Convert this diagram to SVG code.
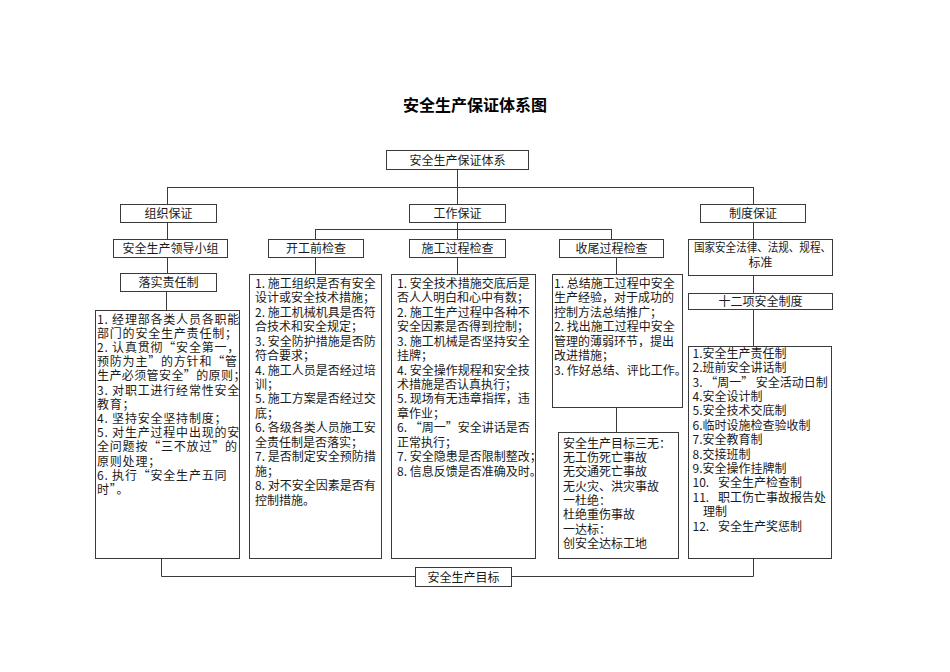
<svg xmlns="http://www.w3.org/2000/svg" width="950" height="672" viewBox="0 0 950 672">
<style>
.bx{fill:#fff;stroke:#3a3a3a;stroke-width:1}
.ln{fill:none;stroke:#3a3a3a;stroke-width:1}
text{font-family:"Noto Sans CJK SC","Noto Sans",sans-serif;font-size:12px;fill:#1a1a1a}
.c{text-anchor:middle}
.title{font-size:16px;font-weight:bold;fill:#000}
.sp{letter-spacing:0.8px}
</style>
<rect width="950" height="672" fill="#fff"/>
<text class="title c" x="475" y="111">安全生产保证体系图</text>

<g id="connectors">
<path class="ln" d="M457.5 169V204 M167.5 187.5H753.5 M167.5 187V204 M753.5 187V204"/>
<path class="ln" d="M167.5 222V239 M167.5 257V273 M166.5 291V310"/>
<path class="ln" d="M315.5 229.5H611.5 M457.5 222V239 M315.5 229V239 M611.5 229V239"/>
<path class="ln" d="M315.5 257V274 M457.5 257V274 M616.5 257V274 M616.5 407V432"/>
<path class="ln" d="M753.5 222V239 M753.5 275V293 M753.5 309V346"/>
<path class="ln" d="M161.5 558V576.5H415 M511 576.5H753.5V558"/>
</g>

<g id="root"><rect class="bx" x="386.5" y="150.5" width="142" height="19"/><text class="c" x="457.5" y="164.5">安全生产保证体系</text></g>

<g id="zuzhi"><rect class="bx" x="120.5" y="204.5" width="96" height="18"/><text class="c" x="168.5" y="218">组织保证</text></g>
<g id="gongzuo"><rect class="bx" x="409.5" y="204.5" width="96" height="18"/><text class="c" x="457.5" y="218">工作保证</text></g>
<g id="zhidu"><rect class="bx" x="700.5" y="204.5" width="105" height="18"/><text class="c" x="753" y="218">制度保证</text></g>

<g id="lingdao"><rect class="bx" x="113.5" y="239.5" width="114" height="18"/><text class="c" x="170.5" y="253">安全生产领导小组</text></g>
<g id="kaigong"><rect class="bx" x="268.5" y="239.5" width="95" height="18"/><text class="c" x="316" y="253">开工前检查</text></g>
<g id="shigong"><rect class="bx" x="409.5" y="239.5" width="96" height="18"/><text class="c" x="457.5" y="253">施工过程检查</text></g>
<g id="shouwei"><rect class="bx" x="559.5" y="239.5" width="104" height="18"/><text class="c" x="611.5" y="253">收尾过程检查</text></g>
<g id="guojia"><rect class="bx" x="688.5" y="239.5" width="144" height="36"/><text x="694" y="252" textLength="137" lengthAdjust="spacingAndGlyphs">国家安全法律、法规、规程、</text><text class="c" x="760.5" y="267">标准</text></g>

<g id="luoshi"><rect class="bx" x="120.5" y="273.5" width="96" height="18"/><text class="c" x="168.5" y="287">落实责任制</text></g>
<g id="shierxiang"><rect class="bx" x="688.5" y="293.5" width="144" height="16"/><text class="c" x="760.5" y="306">十二项安全制度</text></g>

<g id="zuzhi-list"><rect class="bx" x="95.5" y="310.5" width="144" height="248"/>
<text class="sp" x="97">
<tspan x="97" y="323.5">1. 经理部各类人员各职能</tspan>
<tspan x="97" y="337.7">部门的安全生产责任制；</tspan>
<tspan x="97" y="351.9">2. 认真贯彻“安全第一，</tspan>
<tspan x="97" y="366.1">预防为主”的方针和“管</tspan>
<tspan x="97" y="380.3" style="letter-spacing:0.4px">生产必须管安全”的原则；</tspan>
<tspan x="97" y="394.5">3. 对职工进行经常性安全</tspan>
<tspan x="97" y="408.7">教育；</tspan>
<tspan x="97" y="422.9">4. 坚持安全坚持制度；</tspan>
<tspan x="97" y="437.1">5. 对生产过程中出现的安</tspan>
<tspan x="97" y="451.3">全问题按“三不放过”的</tspan>
<tspan x="97" y="465.5">原则处理；</tspan>
<tspan x="97" y="479.7">6. 执行“安全生产五同</tspan>
<tspan x="97" y="493.9">时”。</tspan>
</text>
</g>

<g id="kaigong-list"><rect class="bx" x="249.5" y="274.5" width="132" height="284"/>
<text x="255">
<tspan x="255" y="287.8">1. 施工组织是否有安全</tspan>
<tspan x="255" y="302.3">设计或安全技术措施；</tspan>
<tspan x="255" y="316.7">2. 施工机械机具是否符</tspan>
<tspan x="255" y="331.2">合技术和安全规定；</tspan>
<tspan x="255" y="345.6">3. 安全防护措施是否防</tspan>
<tspan x="255" y="360.1">符合要求；</tspan>
<tspan x="255" y="374.5">4. 施工人员是否经过培</tspan>
<tspan x="255" y="389">训；</tspan>
<tspan x="255" y="403.4">5. 施工方案是否经过交</tspan>
<tspan x="255" y="417.9">底；</tspan>
<tspan x="255" y="432.3">6. 各级各类人员施工安</tspan>
<tspan x="255" y="446.8">全责任制是否落实；</tspan>
<tspan x="255" y="461.2">7. 是否制定安全预防措</tspan>
<tspan x="255" y="475.7">施；</tspan>
<tspan x="255" y="490.1">8. 对不安全因素是否有</tspan>
<tspan x="255" y="504.6">控制措施。</tspan>
</text>
</g>

<g id="shigong-list"><rect class="bx" x="391.5" y="274.5" width="144" height="284"/>
<text x="397">
<tspan x="397" y="287.8">1. 安全技术措施交底后是</tspan>
<tspan x="397" y="302.3">否人人明白和心中有数；</tspan>
<tspan x="397" y="316.7">2. 施工生产过程中各种不</tspan>
<tspan x="397" y="331.2">安全因素是否得到控制；</tspan>
<tspan x="397" y="345.6">3. 施工机械是否坚持安全</tspan>
<tspan x="397" y="360.1">挂牌；</tspan>
<tspan x="397" y="374.5">4. 安全操作规程和安全技</tspan>
<tspan x="397" y="389">术措施是否认真执行；</tspan>
<tspan x="397" y="403.4">5. 现场有无违章指挥，违</tspan>
<tspan x="397" y="417.9">章作业；</tspan>
<tspan x="397" y="432.3">6. “周一”安全讲话是否</tspan>
<tspan x="397" y="446.8">正常执行；</tspan>
<tspan x="397" y="461.2">7. 安全隐患是否限制整改；</tspan>
<tspan x="397" y="475.7">8. 信息反馈是否准确及时。</tspan>
</text>
</g>

<g id="shouwei-list"><rect class="bx" x="552.5" y="274.5" width="130" height="133"/>
<text x="554">
<tspan x="554" y="287.8">1. 总结施工过程中安全</tspan>
<tspan x="554" y="302.3">生产经验，对于成功的</tspan>
<tspan x="554" y="316.7">控制方法总结推广；</tspan>
<tspan x="554" y="331.2">2. 找出施工过程中安全</tspan>
<tspan x="554" y="345.6">管理的薄弱环节，提出</tspan>
<tspan x="554" y="360.1">改进措施；</tspan>
<tspan x="554" y="374.5">3. 作好总结、评比工作。</tspan>
</text>
</g>

<g id="sanwu"><rect class="bx" x="558.5" y="432.5" width="120" height="126"/>
<text x="563">
<tspan x="563" y="447.8">安全生产目标三无：</tspan>
<tspan x="563" y="462.1">无工伤死亡事故</tspan>
<tspan x="563" y="476.4">无交通死亡事故</tspan>
<tspan x="563" y="490.7">无火灾、洪灾事故</tspan>
<tspan x="563" y="505">一杜绝：</tspan>
<tspan x="563" y="519.3">杜绝重伤事故</tspan>
<tspan x="563" y="533.6">一达标：</tspan>
<tspan x="563" y="547.9">创安全达标工地</tspan>
</text>
</g>

<g id="zhidu-list"><rect class="bx" x="688.5" y="346.5" width="143" height="212"/>
<text x="692.5">
<tspan x="692.5" y="357.8">1.安全生产责任制</tspan>
<tspan x="692.5" y="372.2">2.班前安全讲话制</tspan>
<tspan x="692.5" y="386.6">3. “周一” 安全活动日制</tspan>
<tspan x="692.5" y="401">4.安全设计制</tspan>
<tspan x="692.5" y="415.4">5.安全技术交底制</tspan>
<tspan x="692.5" y="429.8">6.临时设施检查验收制</tspan>
<tspan x="692.5" y="444.2">7.安全教育制</tspan>
<tspan x="692.5" y="458.6">8.交接班制</tspan>
<tspan x="692.5" y="473">9.安全操作挂牌制</tspan>
<tspan x="692.5" y="487.4">10.</tspan><tspan x="718" y="487.4">安全生产检查制</tspan>
<tspan x="692.5" y="501.8">11.</tspan><tspan x="718" y="501.8">职工伤亡事故报告处</tspan>
<tspan x="703" y="516.2">理制</tspan>
<tspan x="692.5" y="530.6">12.</tspan><tspan x="718" y="530.6">安全生产奖惩制</tspan>
</text>
</g>

<g id="target"><rect class="bx" x="415.5" y="567.5" width="96" height="19"/><text class="c" x="463.5" y="581.5">安全生产目标</text></g>
</svg>
